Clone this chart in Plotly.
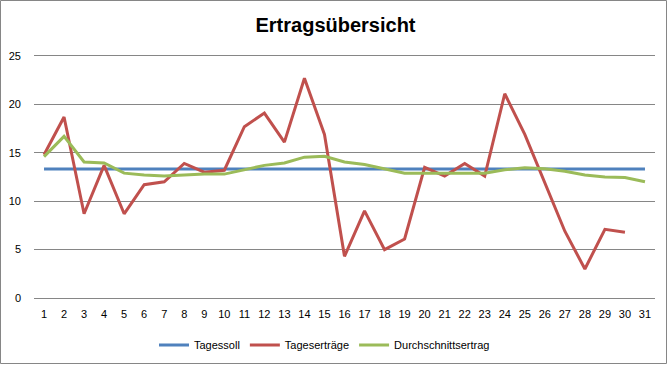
import plotly.graph_objects as go

days = list(range(1, 32))
tick_labels = [str(d) for d in days]
tagessoll = [13.33] * 31
tagesertraege = [14.8, 18.7, 8.7, 13.7, 8.7, 11.7, 12.0, 13.9, 13.0, 13.2,
                 17.7, 19.1, 16.1, 22.7, 16.9, 4.3, 9.0, 5.0, 6.1, 13.5,
                 12.6, 13.9, 12.6, 21.1, 16.9, 11.9, 6.9, 3.0, 7.1, 6.8, None]
durchschnitt = [14.6, 16.7, 14.05, 13.95, 12.9, 12.7, 12.6, 12.7, 12.8, 12.8,
                13.25, 13.7, 13.95, 14.55, 14.65, 14.05, 13.8, 13.35, 12.9, 12.9,
                12.9, 12.9, 12.9, 13.25, 13.45, 13.35, 13.1, 12.7, 12.5, 12.45, 12.0]

W, H = 671, 365
ml, mr, mt, mb = 34, 16, 56, 67
pw, ph = W - ml - mr, H - mt - mb

fig = go.Figure()
fig.add_trace(go.Scatter(x=days, y=tagessoll, mode="lines", name="Tagessoll",
                         line=dict(color="#4F81BD", width=3)))
fig.add_trace(go.Scatter(x=days, y=tagesertraege, mode="lines", name="Tageserträge",
                         line=dict(color="#C0504D", width=3)))
fig.add_trace(go.Scatter(x=days, y=durchschnitt, mode="lines", name="Durchschnittsertrag",
                         line=dict(color="#9BBB59", width=3)))

fig.update_layout(
    width=W, height=H,
    margin=dict(l=ml, r=mr, t=mt, b=mb, autoexpand=False),
    paper_bgcolor="white", plot_bgcolor="white",
    font=dict(family="Liberation Sans, Arial, sans-serif", size=11, color="#000000"),
    title=dict(text="<b>Ertragsübersicht</b>", x=0.5, xanchor="center",
               y=1 - 25 / H, yanchor="middle",
               font=dict(family="Liberation Sans, Arial, sans-serif", size=20, color="#000000")),
    showlegend=True,
    legend=dict(orientation="h", x=0.5 - 20 / pw, xanchor="center", y=-(345 - 298) / ph,
                yanchor="middle", font=dict(size=11), itemwidth=30),
    xaxis=dict(range=[0.5, 31.5], tickmode="array", tickvals=days, ticktext=tick_labels,
               showgrid=False, showline=True, mirror=True, linecolor="#868686", linewidth=1,
               ticks="", ticklen=0, zeroline=False, ticklabelstandoff=6, fixedrange=True),
    yaxis=dict(range=[0, 25], dtick=5, showgrid=True, gridcolor="#868686", gridwidth=1,
               showline=False, zeroline=False, ticks="", ticklabelstandoff=12, fixedrange=True),
)

fig.add_shape(type="rect", xref="paper", yref="paper",
              x0=-(ml - 0.5) / pw, x1=1 + (mr - 4.5) / pw,
              y0=-(mb - 1.5) / ph, y1=1 + (mt - 0.5) / ph,
              line=dict(color="#868686", width=1), fillcolor="rgba(0,0,0,0)")

fig.write_html("out.html", config={"displayModeBar": False},
               post_script="document.body.style.margin='0';document.body.style.overflow='hidden';")
